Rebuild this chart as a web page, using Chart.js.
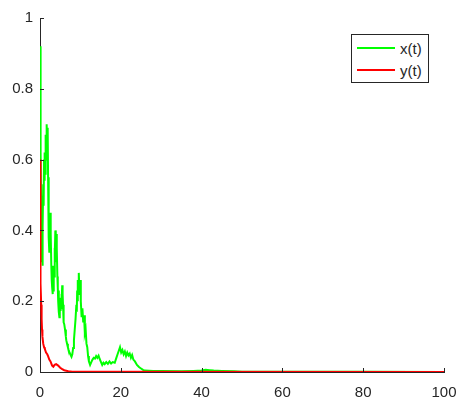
<!DOCTYPE html>
<html>
<head>
<meta charset="utf-8">
<script src="https://cdn.jsdelivr.net/npm/chart.js@4.4.1/dist/chart.umd.min.js"></script>
<style>
  body { margin: 0; background: #fff; }
  #wrap { position: relative; width: 459px; height: 399px; }
  #legend {
    position: absolute; left: 351px; top: 34px; width: 76px; height: 47px;
    border: 1px solid #262626; background: #fff;
    font: 15px "Liberation Sans", Arial, sans-serif; color: #262626;
  }
  .row { position: absolute; left: 5px; height: 18px; display: flex; align-items: center; }
  .row span.ln { display: inline-block; width: 38px; height: 2px; margin-right: 5px; }
</style>
</head>
<body>
<div id="wrap">
  <canvas id="chart" width="459" height="399"></canvas>
  <div id="legend"></div>
</div>
<script>
// time points and values
const xTime = [0, 0.1, 0.2, 0.3, 0.4, 0.5, 0.6, 0.7, 0.8, 0.9, 1.0, 1.1, 1.2, 1.3, 1.4, 1.5, 1.6, 1.7, 1.8, 1.9,
  2.0, 2.1, 2.2, 2.3, 2.4, 2.5, 2.6, 2.7, 2.8, 2.9, 3.0, 3.1, 3.2, 3.3, 3.4, 3.5, 3.6, 3.7, 3.8, 3.9,
  4.0, 4.1, 4.2, 4.3, 4.4, 4.5, 4.6, 4.7, 4.8, 4.9, 5.0, 5.1, 5.2, 5.3, 5.4, 5.5, 5.6, 5.7, 5.8, 5.9,
  6.0, 6.2, 6.4, 6.5, 6.7, 6.9, 7.1, 7.3, 7.5, 7.8, 8.0, 8.2, 8.4, 8.6, 8.8, 9.0, 9.1, 9.2, 9.3, 9.4,
  9.5, 9.6, 9.7, 9.8, 10.0, 10.1, 10.3, 10.5, 10.7, 10.9, 11.1, 11.3, 11.5, 11.7, 11.9, 12.1, 12.4, 12.7, 13.0, 13.3,
  13.6, 13.9, 14.2, 14.5, 14.8, 15.1, 15.4, 15.7, 16.0, 16.4, 16.8, 17.2, 17.6, 18.0, 18.5, 18.9, 19.2, 19.5, 19.8, 20.1,
  20.4, 20.7, 21.0, 21.3, 21.6, 21.9, 22.2, 22.5, 22.8, 23.1, 23.5, 24.0, 24.5, 25.0, 25.5, 26, 28, 30, 35, 38,
  40, 41, 42, 43, 45, 48, 50, 60, 70, 80, 100];
const xValues = [0.92, 0.84, 0.62, 0.45, 0.31, 0.36, 0.3, 0.41, 0.53, 0.47, 0.6, 0.54, 0.62, 0.56, 0.67, 0.6, 0.68, 0.7, 0.63, 0.69,
  0.55, 0.49, 0.38, 0.34, 0.42, 0.38, 0.45, 0.39, 0.3, 0.26, 0.24, 0.22, 0.28, 0.23, 0.3, 0.27, 0.35, 0.33, 0.4, 0.36,
  0.39, 0.31, 0.35, 0.27, 0.24, 0.2, 0.23, 0.17, 0.155, 0.19, 0.175, 0.21, 0.18, 0.22, 0.2, 0.245, 0.22, 0.19, 0.16, 0.14,
  0.135, 0.12, 0.1, 0.09, 0.08, 0.07, 0.062, 0.055, 0.05, 0.043, 0.05, 0.068, 0.09, 0.12, 0.15, 0.19, 0.17, 0.23, 0.2, 0.26,
  0.22, 0.28, 0.25, 0.24, 0.26, 0.2, 0.155, 0.18, 0.14, 0.16, 0.11, 0.12, 0.08, 0.07, 0.045, 0.03, 0.02, 0.028, 0.035, 0.04,
  0.038, 0.045, 0.04, 0.046, 0.036, 0.028, 0.02, 0.026, 0.022, 0.028, 0.023, 0.03, 0.024, 0.028, 0.026, 0.04, 0.05, 0.06, 0.07, 0.055,
  0.062, 0.05, 0.058, 0.045, 0.055, 0.047, 0.052, 0.04, 0.048, 0.035, 0.03, 0.02, 0.014, 0.01, 0.006, 0.004, 0.003, 0.003, 0.002, 0.003,
  0.004, 0.006, 0.005, 0.004, 0.003, 0.002, 0.001, 0.001, 0.0005, 0.0005, 0.0003];

const yTime = [0, 0.05, 0.1, 0.15, 0.2, 0.3, 0.4, 0.5, 0.6, 0.8, 1.0, 1.2, 1.5, 1.8, 2.0, 2.3, 2.6, 3.0, 3.3, 3.6,
  4.0, 4.5, 5.0, 5.5, 6.0, 7.0, 8.0, 10, 100];
const yValues = [0.6, 0.55, 0.42, 0.32, 0.25, 0.19, 0.15, 0.12, 0.10, 0.08, 0.07, 0.065, 0.055, 0.05, 0.045, 0.035, 0.03, 0.018, 0.015, 0.02,
  0.022, 0.018, 0.012, 0.008, 0.005, 0.002, 0.001, 0.0005, 0.0001];

const seriesNames = ['x(t)', 'y(t)'];
const seriesColors = ['#00ff00', '#ff0000'];
const xTicks = [0, 20, 40, 60, 80, 100];
const yTicks = [0, 0.2, 0.4, 0.6, 0.8, 1];

const axisColor = '#262626';
const font = { family: '"Liberation Sans", Arial, sans-serif', size: 15 };

const toPoints = (ts, vs) => ts.map((t, i) => ({ x: t, y: vs[i] }));

// matlab style ticks pointing into the plot
const innerTicks = {
  id: 'innerTicks',
  afterDraw(chart) {
    const ctx = chart.ctx;
    const a = chart.chartArea;
    const xs = chart.scales.x, ys = chart.scales.y;
    ctx.save();
    ctx.strokeStyle = axisColor;
    ctx.lineWidth = 1;
    ctx.beginPath();
    xTicks.forEach(v => {
      const px = Math.round(xs.getPixelForValue(v)) + 0.5;
      ctx.moveTo(px, a.bottom);
      ctx.lineTo(px, a.bottom - 4);
    });
    yTicks.forEach(v => {
      const py = Math.round(ys.getPixelForValue(v)) + 0.5;
      ctx.moveTo(a.left, py);
      ctx.lineTo(a.left + 4, py);
    });
    ctx.stroke();
    ctx.restore();
  }
};

new Chart('chart', {
  type: 'line',
  data: {
    datasets: [
      {
        label: seriesNames[0],
        data: toPoints(xTime, xValues),
        borderColor: seriesColors[0],
        backgroundColor: seriesColors[0],
        borderWidth: 2,
        pointRadius: 0,
        tension: 0,
        order: 2
      },
      {
        label: seriesNames[1],
        data: toPoints(yTime, yValues),
        borderColor: seriesColors[1],
        backgroundColor: seriesColors[1],
        borderWidth: 2,
        pointRadius: 0,
        tension: 0,
        order: 1
      }
    ]
  },
  options: {
    responsive: false,
    animation: false,
    events: [],
    layout: { padding: { top: 18, right: 15, left: 0, bottom: 0 } },
    plugins: { legend: { display: false }, tooltip: { enabled: false } },
    scales: {
      x: {
        type: 'linear',
        min: 0, max: 100,
        afterBuildTicks: s => { s.ticks = xTicks.map(v => ({ value: v })); },
        afterFit: s => { s.height = 27; s.paddingLeft = 0; s.paddingRight = 0; },
        ticks: { color: axisColor, font: font, padding: 12, maxRotation: 0 },
        grid: { drawOnChartArea: false, drawTicks: false },
        border: { color: axisColor, width: 1 }
      },
      y: {
        type: 'linear',
        min: 0, max: 1,
        afterBuildTicks: s => { s.ticks = yTicks.map(v => ({ value: v })); },
        afterFit: s => { s.width = 40; s.paddingTop = 0; s.paddingBottom = 0; },
        ticks: { color: axisColor, font: font, padding: 7, callback: v => String(v) },
        grid: { drawOnChartArea: false, drawTicks: false },
        border: { color: axisColor, width: 1 }
      }
    }
  },
  plugins: [innerTicks]
});

// legend in the top right corner
const legend = document.getElementById('legend');
seriesNames.forEach((name, i) => {
  const row = document.createElement('div');
  row.className = 'row';
  row.style.top = (i === 0 ? 4 : 26) + 'px';
  row.innerHTML = '<span class="ln" style="background:' + seriesColors[i] + '"></span>' + name;
  legend.appendChild(row);
});
</script>
</body>
</html>
